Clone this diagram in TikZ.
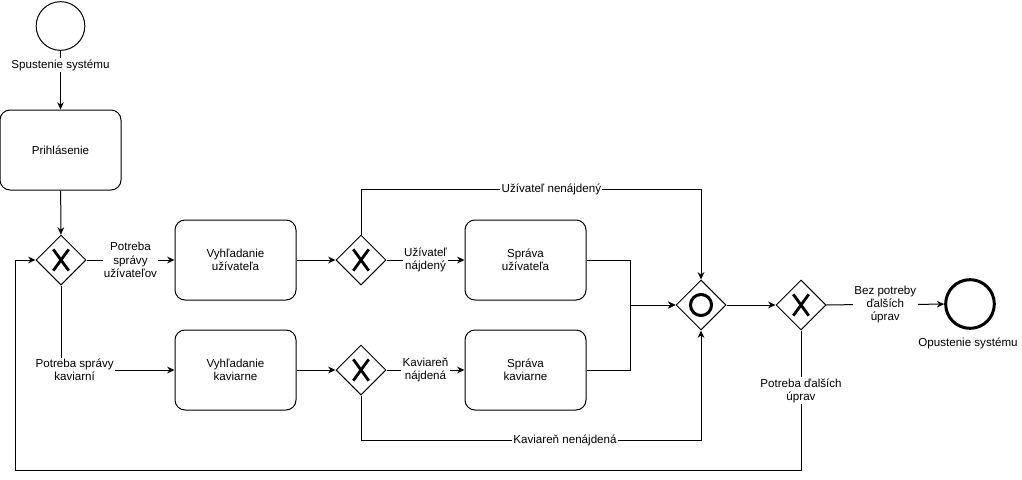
\documentclass[tikz,border=0pt]{standalone}
\usepackage{fontspec}
\setmainfont{Liberation Sans}
\usetikzlibrary{arrows.meta,shapes.geometric}

\begin{document}
\begin{tikzpicture}
  [
    x=0.75pt, y=-0.75pt,
    >={Stealth[length=5.5pt,width=5pt]},
    every node/.style={font=\fontsize{8.7}{10}\selectfont},
    thin line/.style={line width=0.75pt},
    task/.style={draw,thin line,rectangle,rounded corners=7.5pt,minimum width=90.75pt,minimum height=60pt,align=center},
    gate/.style={draw,thin line,diamond,inner sep=0pt,minimum size=37.5pt},
    xgate/.style={gate,path picture={
        \draw[line width=2.1pt] ([shift={(-5.8pt,-8pt)}]path picture bounding box.center) -- ([shift={(5.8pt,8pt)}]path picture bounding box.center);
        \draw[line width=2.1pt] ([shift={(-5.8pt,8pt)}]path picture bounding box.center) -- ([shift={(5.8pt,-8pt)}]path picture bounding box.center);}},
    ogate/.style={gate,path picture={
        \draw[line width=2.25pt] (path picture bounding box.center) circle (7.9pt);}},
    event/.style={draw,circle,inner sep=0pt,minimum size=36.5pt},
    lbl/.style={fill=white,inner sep=1pt,align=center},
  ]
  \useasboundingbox (0,0) rectangle (1022,479);

  % nodes
  \node [event,thin line] (start) at (60.5,26) {};
  \node [task] (login) at (60.5,150) {Prihlásenie};
  \node [xgate] (g1) at (61,260) {};
  \node [task] (finduser) at (235.5,260) {Vyhľadanie\\užívateľa};
  \node [task] (findcafe) at (235.5,370) {Vyhľadanie\\kaviarne};
  \node [xgate] (g2) at (361,260) {};
  \node [xgate] (g3) at (361,370) {};
  \node [task] (manuser) at (525.5,260) {Správa\\užívateľa};
  \node [task] (mancafe) at (525.5,370) {Správa\\kaviarne};
  \node [ogate] (join) at (701,305) {};
  \node [xgate] (g4) at (801,305) {};
  \node [event,line width=2.25pt] (end) at (970,304) {};

  % flows
  \draw [->,thin line] (start) -- (login);
  \draw [->,thin line] (login) -- (g1);
  \draw [->,thin line] (g1) -- node [lbl] {Potreba\\správy\\užívateľov} (finduser);
  \draw [->,thin line] (g1.south) |- node [lbl,pos=0.56] {Potreba správy\\kaviarní} (findcafe);
  \draw [->,thin line] (finduser) -- (g2);
  \draw [->,thin line] (findcafe) -- (g3);
  \draw [->,thin line] (g2) -- node [lbl] {Užívateľ\\nájdený} (manuser);
  \draw [->,thin line] (g3) -- node [lbl] {Kaviareň\\nájdená} (mancafe);
  \draw [->,thin line] (g2.north) -- ++(0,-45) -| node [lbl,pos=0.28] {Užívateľ nenájdený} (join.north);
  \draw [->,thin line] (g3.south) -- ++(0,45) -| node [lbl,pos=0.3] {Kaviareň nenájdená} (join.south);
  \draw [->,thin line] (manuser.east) -- ++(44,0) |- (join.west);
  \draw [->,thin line] (mancafe.east) -- ++(44,0) |- (join.west);
  \draw [->,thin line] (join) -- (g4);
  \draw [->,thin line] (g4) -- node [lbl] {Bez potreby\\ďalších\\úprav} (end);
  \draw [->,thin line] (g4.south) -- node [lbl,pos=0.43] {Potreba ďalších\\úprav} ++(0,140) -- ++(-786,0) |- (g1.west);

  % event labels
  \node [lbl] (startlbl) at (60.5,65) {Spustenie systému};
  \node [lbl] (endlbl) at (968,343) {Opustenie systému};
\end{tikzpicture}
\end{document}
